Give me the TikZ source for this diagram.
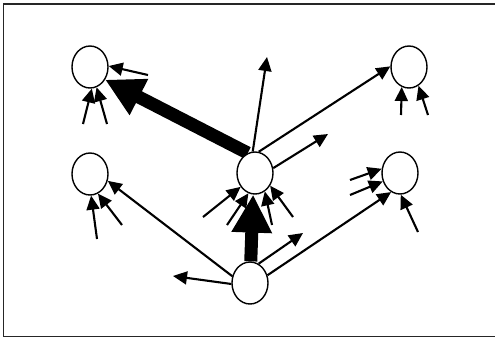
\documentclass[tikz,border=0pt]{standalone}
\usetikzlibrary{shapes.geometric,arrows.meta,backgrounds}
\begin{document}
\begin{tikzpicture}[x=1pt,y=-1pt,
 agent/.style={draw,ellipse,line width=1.4pt,minimum width=36pt,minimum height=42pt,inner sep=0pt,fill=white},
 link/.style={line width=2.1pt,-{Triangle[length=14pt,width=13pt]}},
 heavy/.style={line width=13pt,-{Triangle[length=38pt,width=38pt]}}]
\useasboundingbox (0,0) rectangle (495,338);
\draw[line width=1.4pt,black!85] (496,4) -- (3.5,4) -- (3.5,336.5) -- (496,336.5);
% agents
\node[agent] (TL) at (90,67) {};
\node[agent] (ML) at (90,174) {};
\node[agent] (TR) at (409,67) {};
\node[agent] (MR) at (400,173) {};
\node[agent] (C) at (255,173) {};
\node[agent] (B) at (250,283) {};
% free ends
\coordinate (tl1) at (148,75);
\coordinate (tl2) at (83,124);
\coordinate (tl3) at (107,124);
\coordinate (ml1) at (97,239);
\coordinate (ml2) at (122,225);
\coordinate (tr1) at (401,115);
\coordinate (tr2) at (428,115);
\coordinate (mr1) at (350,180);
\coordinate (mr2) at (350,195);
\coordinate (mr3) at (418,232);
\coordinate (c1) at (203,217);
\coordinate (c2) at (227,225);
\coordinate (c3) at (272,225);
\coordinate (c4) at (293,217);
\coordinate (cup) at (267,57);
\coordinate (cright) at (328,134);
\coordinate (bleft) at (173,276);
\coordinate (bright) at (303,233);
\begin{scope}[on background layer]
\draw[heavy] (C.110) -- (TL.320);
\draw[heavy] (B.88) -- (C.265);
\draw[link] (tl1) -- (TL.3);
\draw[link] (tl2) -- (TL.275);
\draw[link] (tl3) -- (TL.288);
\draw[link] (ml1) -- (ML.273);
\draw[link] (ml2) -- (ML.292);
\draw[link] (tr1) -- (TR.250);
\draw[link] (tr2) -- (TR.297);
\draw[link] (mr1) -- (MR.167);
\draw[link] (mr2) -- (MR.206);
\draw[link] (mr3) -- (MR.272);
\draw[link] (c1) -- (C.224);
\draw[link] (c2) -- (C.252);
\draw[link] (c3) -- (C.298);
\draw[link] (c4) -- (C.320);
\draw[link] (C.96) -- (cup);
\draw[link] (C.80) -- (TR.178);
\draw[link] (C.15) -- (cright);
\draw[link] (B.159) -- (ML.339);
\draw[link] (B.183) -- (bleft);
\draw[link] (B.66) -- (bright);
\draw[link] (B.24) -- (MR.245);
\end{scope}
\end{tikzpicture}
\end{document}
